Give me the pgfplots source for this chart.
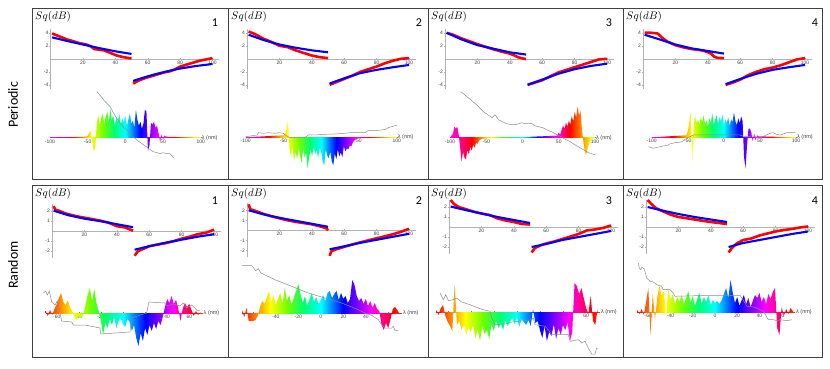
\documentclass[border=0pt]{standalone}
\usepackage{fontspec}
\setmainfont{Carlito}
\newfontfamily\tickfont{Liberation Sans}
\usepackage{pgfplots}
\pgfplotsset{compat=1.18}
\usepackage{pgfplotstable}

% wavelength colours; the middle 25bp..75bp spans the filled area
\pgfdeclarehorizontalshading{lamP}{100bp}{rgb(0bp)=(1,0,1); rgb(25bp)=(1,0,1); rgb(28.75bp)=(1,0,0.55); rgb(32.5bp)=(1,0,0); rgb(35.5bp)=(1,0.5,0); rgb(38.75bp)=(1,1,0); rgb(42.5bp)=(0.45,1,0); rgb(46.25bp)=(0,1,0.45); rgb(50bp)=(0,1,1); rgb(55bp)=(0,0,1); rgb(58.75bp)=(0.6,0,1); rgb(61.25bp)=(1,0,1); rgb(63.75bp)=(1,0,0.55); rgb(66.25bp)=(1,0,0); rgb(70bp)=(1,0.5,0); rgb(73.75bp)=(1,1,0); rgb(75bp)=(0.85,1,0.2); rgb(100bp)=(0.85,1,0.2)}
\pgfdeclarehorizontalshading{lamR}{100bp}{rgb(0bp)=(1,0,0.1); rgb(25bp)=(1,0,0.1); rgb(29.29bp)=(1,0.5,0); rgb(33.93bp)=(1,1,0); rgb(39.29bp)=(0.45,1,0); rgb(44.64bp)=(0,1,0.45); rgb(50bp)=(0,1,1); rgb(57.14bp)=(0,0,1); rgb(62.5bp)=(0.6,0,1); rgb(66.07bp)=(1,0,1); rgb(69.64bp)=(1,0,0.55); rgb(73.21bp)=(1,0,0); rgb(75bp)=(1,0.17,0); rgb(100bp)=(1,0.17,0)}

\pgfplotsset{
  colormap={lam}{rgb(0pt)=(1,0,1) rgb(15pt)=(1,0,0.55) rgb(30pt)=(1,0,0) rgb(42pt)=(1,0.5,0) rgb(55pt)=(1,1,0) rgb(70pt)=(0.45,1,0) rgb(85pt)=(0,1,0.45) rgb(100pt)=(0,1,1) rgb(120pt)=(0,0,1) rgb(135pt)=(0.6,0,1) rgb(145pt)=(1,0,1) rgb(155pt)=(1,0,0.55) rgb(165pt)=(1,0,0) rgb(180pt)=(1,0.5,0) rgb(195pt)=(1,1,0) rgb(200pt)=(0.85,1,0.2)},
  tk/.style={/pgf/number format/assume math mode=true,
    tick label style={font=\tickfont\fontsize{5}{6}\selectfont, text=black!75, inner sep=1pt}},
  sq/.style={scale only axis, tk, axis lines=middle,
    axis line style={-, gray!60, line width=0.4pt},
    tick style={gray!60, line width=0.4pt}, major tick length=2pt,
    xmin=0, xmax=104, width=168.5pt, xtick={20,40,60,80,100},
    clip=false, anchor=south west},
  sqp/.style={sq, ymin=-4.6, ymax=4.6, height=59.8pt, ytick={-4,-2,2,4}},
  sqr/.style={sq, ymin=-2.7, ymax=2.7, height=54pt, ytick={-2,-1,1,2}},
  rd/.style={red, line width=2.6pt, no markers, line join=round},
  bl/.style={blue, line width=2.1pt, no markers, line join=round},
  lam/.style={scale only axis, tk, axis x line=middle, axis y line=none,
    axis line style={draw=none}, tick style={black!50, line width=0.4pt},
    major tick length=1.5pt, ymin=-50, ymax=50, height=100pt, clip=false,
    anchor=south west, colormap name=lam, point meta min=-100, point meta max=100},
  spec/.style={draw=none, shade, shading=#1, no markers},
  gr/.style={black!45, line width=0.5pt, no markers},
  band/.style={mesh, point meta=x, line width=1pt, no markers},
}

% spectra: x (nm), bar height
\pgfplotstableread[row sep=\\]{x v\\-100 0\\
-52 1\\-50 2\\-48 5\\-46 6\\-44 -3\\-42 -14\\-40 -10\\-38 14\\-36 23\\-34 12\\-32 20\\-30 24\\-28 14\\-26 21\\
-24 26\\-22 15\\-20 29\\-18 18\\-16 22\\-14 12\\-12 20\\-10 16\\-8 24\\-6 13\\-4 19\\-2 15\\0 22\\2 12\\4 18\\
6 24\\8 14\\10 17\\12 10\\14 28\\16 18\\18 12\\20 16\\22 9\\24 14\\26 28\\28 26\\30 -13\\32 -8\\34 15\\36 13\\
38 16\\40 10\\42 12\\44 5\\46 -4\\48 3\\50 -2\\52 2\\54 1\\100 0\\}\tPa
\pgfplotstableread[row sep=\\]{x v\\-100 0\\
-50 2\\-48 3\\-46 8\\-44 17\\-42 -12\\-40 -20\\-38 -8\\-36 -24\\-34 -14\\-32 -22\\-30 -10\\-28 -18\\-26 -26\\
-24 -12\\-22 -20\\-20 -15\\-18 -31\\-16 -20\\-14 -12\\-12 -19\\-10 -9\\-8 -17\\-6 -13\\-4 -21\\-2 -10\\0 -15\\
2 -24\\4 -28\\6 -12\\8 -18\\10 -21\\12 -14\\14 -24\\16 -28\\18 -16\\20 -22\\22 -12\\24 -19\\26 -15\\28 -20\\
30 -9\\32 -14\\34 -11\\36 -12\\38 -8\\40 -9\\42 -5\\44 -3\\46 -2\\48 -1\\100 0\\}\tPb
\pgfplotstableread[row sep=\\]{x v\\-100 0\\
-96 4\\-94 11\\-92 9\\-90 11\\-88 3\\-86 -10\\-84 -24\\-82 -14\\-80 -20\\-78 -22\\-76 -12\\-74 -17\\-72 -9\\
-70 -13\\-68 -7\\-66 -10\\-64 -5\\-62 -6\\-60 -3\\-58 -2\\-56 -1\\
48 2\\50 5\\52 3\\54 8\\56 12\\58 9\\60 15\\62 11\\64 17\\66 13\\68 22\\70 16\\72 26\\74 20\\76 31\\78 22\\
80 27\\82 8\\84 -4\\86 -14\\88 -17\\90 -10\\92 -6\\94 -2\\100 0\\}\tPc
\pgfplotstableread[row sep=\\]{x v\\-100 0\\
-52 2\\-50 6\\-48 14\\-46 26\\-44 -26\\-42 10\\-40 22\\-38 14\\-36 18\\-34 12\\-32 20\\-30 15\\-28 22\\-26 13\\
-24 17\\-22 10\\-20 19\\-18 14\\-16 24\\-14 12\\-12 18\\-10 22\\-8 13\\-6 20\\-4 16\\-2 23\\0 12\\2 18\\4 14\\
6 20\\8 11\\10 18\\12 15\\14 25\\16 16\\18 12\\20 19\\22 14\\24 21\\26 16\\28 -20\\30 -31\\32 -10\\34 8\\36 9\\
38 5\\40 -4\\42 4\\44 -3\\46 2\\48 1\\100 0\\}\tPd
\pgfplotstableread[row sep=\\]{x v\\
-70 2\\-68 -3\\-66 3\\-64 -2\\-62 4\\-60 9\\-58 15\\-56 20\\-54 11\\-52 8\\-50 13\\-48 6\\-46 2\\-44 -4\\
-42 -7\\-40 -3\\-38 -5\\-36 -2\\-34 8\\-32 18\\-30 25\\-28 12\\-26 24\\-24 10\\-22 2\\-20 -8\\-18 -22\\-16 -10\\
-14 -15\\-12 -6\\-10 -12\\-8 -4\\-6 -15\\-4 -8\\-2 -5\\0 -11\\2 -14\\4 -6\\6 -9\\8 -18\\10 -12\\12 -25\\
14 -33\\16 -20\\18 -28\\20 -15\\22 -22\\24 -12\\26 -18\\28 -10\\30 -16\\32 -8\\34 -12\\36 -4\\38 6\\40 14\\
42 10\\44 17\\46 9\\48 13\\50 5\\52 -8\\54 4\\56 10\\58 6\\60 9\\62 3\\64 -3\\66 2\\68 -2\\70 1\\}\tRa
\pgfplotstableread[row sep=\\]{x v\\
-70 3\\-68 -4\\-66 5\\-64 -8\\-62 -8\\-60 -8\\-58 -7\\-56 -3\\-54 6\\-52 12\\-50 9\\-48 15\\-46 22\\-44 11\\
-42 18\\-40 8\\-38 14\\-36 20\\-34 9\\-32 25\\-30 12\\-28 18\\-26 8\\-24 15\\-22 22\\-20 29\\-18 19\\-16 10\\
-14 17\\-12 7\\-10 14\\-8 20\\-6 11\\-4 16\\-2 9\\0 13\\2 18\\4 12\\6 20\\8 22\\10 15\\12 19\\14 22\\16 13\\
18 20\\20 14\\22 17\\24 10\\26 14\\28 33\\30 28\\32 17\\34 12\\36 15\\38 9\\40 14\\42 7\\44 12\\46 5\\48 10\\
50 4\\52 2\\54 -12\\56 -17\\58 -10\\60 -15\\62 -6\\64 4\\66 6\\68 3\\70 -1\\}\tRb
\pgfplotstableread[row sep=\\]{x v\\
-70 2\\-68 -3\\-66 4\\-64 7\\-62 -4\\-60 -10\\-58 -14\\-56 -19\\-54 28\\-52 -13\\-50 -9\\-48 -18\\-46 -12\\
-44 -23\\-42 -15\\-40 -20\\-38 -13\\-36 -26\\-34 -17\\-32 -29\\-30 -14\\-28 -22\\-26 -18\\-24 -27\\-22 -12\\
-20 -19\\-18 -9\\-16 -16\\-14 -11\\-12 -18\\-10 -8\\-8 -14\\-6 -10\\-4 -6\\-2 -12\\0 -5\\2 -15\\4 -7\\6 -10\\
8 -13\\10 -8\\12 -14\\14 3\\16 -11\\18 -9\\20 -18\\22 -26\\24 -14\\26 -29\\28 -20\\30 -24\\32 -12\\34 -27\\
36 -16\\38 -23\\40 -13\\42 -18\\44 -10\\46 -29\\48 -20\\50 29\\52 26\\54 18\\56 24\\58 14\\60 4\\62 -2\\
64 16\\66 -9\\68 -13\\70 3\\}\tRc
\pgfplotstableread[row sep=\\]{x v\\
-70 2\\-68 -2\\-66 3\\-64 -3\\-62 10\\-60 24\\-58 -23\\-56 18\\-54 -8\\-52 14\\-50 26\\-48 16\\-46 22\\-44 -6\\
-42 24\\-40 12\\-38 18\\-36 8\\-34 15\\-32 10\\-30 17\\-28 8\\-26 14\\-24 21\\-22 9\\-20 16\\-18 6\\-16 13\\
-14 19\\-12 8\\-10 15\\-8 10\\-6 17\\-4 7\\-2 12\\0 9\\2 11\\4 8\\6 12\\8 18\\10 24\\12 14\\14 32\\16 19\\
18 9\\20 15\\22 6\\24 12\\26 17\\28 8\\30 14\\32 5\\34 11\\36 17\\38 14\\40 19\\42 10\\44 15\\46 8\\48 18\\
50 13\\52 20\\54 24\\56 -16\\58 -23\\60 5\\62 -4\\64 3\\66 -2\\68 4\\70 1\\}\tRd
\pgfplotstableread[row sep=\\]{x y\\-100 0\\-95 0\\-90 0\\-85 0\\-80 0\\-75 0\\-70 0\\-65 0\\-60 0\\-55 0\\-50 0\\-45 0\\-40 0\\-35 0\\-30 0\\
-25 0\\-20 0\\-15 0\\-10 0\\-5 0\\0 0\\5 0\\10 0\\15 0\\20 0\\25 0\\30 0\\35 0\\40 0\\45 0\\50 0\\55 0\\60 0\\65 0\\70 0\\75 0\\80 0\\85 0\\90 0\\95 0\\100 0\\}\tBandP
\pgfplotstableread[row sep=\\]{x y\\-70 0\\-66 0\\-62 0\\-58 0\\-54 0\\-50 0\\-46 0\\-42 0\\-38 0\\-34 0\\-30 0\\-26 0\\-22 0\\-18 0\\-14 0\\-10 0\\
-6 0\\-2 0\\2 0\\6 0\\10 0\\14 0\\18 0\\22 0\\26 0\\30 0\\34 0\\38 0\\42 0\\46 0\\50 0\\54 0\\58 0\\62 0\\66 0\\70 0\\72 0\\}\tBandR

\begin{document}
\begin{tikzpicture}
\useasboundingbox (0pt,0pt) rectangle (830pt,368pt);

% ---------- Periodic row: Sq(dB) ----------
\begin{axis}[sqp, at={(50.5pt,279.3pt)}]
\addplot[rd] coordinates {(1,3.9)(3,3.7)(6,3.4)(10,3.0)(14,2.7)(18,2.4)(22,2.2)(25,1.9)(27,1.5)(30,1.4)(33,1.3)(36,1.0)(38,0.8)(41,0.5)(45,0.25)(50,0.05)};
\addplot[rd] coordinates {(51,-3.8)(54,-3.4)(58,-3.0)(62,-2.7)(66,-2.4)(70,-2.1)(74,-1.9)(77,-1.6)(80,-1.2)(84,-0.9)(88,-0.6)(92,-0.3)(96,-0.1)(100,0.1)};
\addplot[bl] coordinates {(1,3.3)(10,2.75)(20,2.2)(30,1.65)(40,1.15)(50,0.75)};
\addplot[bl] coordinates {(51,-3.4)(56,-3.0)(60,-2.7)(65,-2.35)(70,-2.05)(75,-1.75)(80,-1.5)(85,-1.3)(90,-1.1)(95,-0.95)(100,-0.8)};
\end{axis}
\begin{axis}[sqp, at={(247pt,279.3pt)}]
\addplot[rd] coordinates {(1,4.2)(5,3.8)(10,3.1)(15,2.6)(20,2.0)(25,1.8)(28,1.5)(30,1.3)(35,0.9)(40,0.5)(45,0.25)(50,0.1)};
\addplot[rd] coordinates {(51,-4.0)(55,-3.6)(60,-3.1)(65,-2.6)(70,-2.0)(75,-1.6)(80,-1.2)(85,-0.7)(90,-0.3)(95,0)(100,0.1)};
\addplot[bl] coordinates {(1,3.7)(10,2.9)(20,2.2)(30,1.7)(40,1.3)(50,1.0)};
\addplot[bl] coordinates {(51,-3.8)(60,-3.0)(70,-2.2)(80,-1.7)(90,-1.3)(100,-0.95)};
\end{axis}
\begin{axis}[sqp, at={(445pt,279.3pt)}]
\addplot[rd] coordinates {(1,4.0)(5,3.7)(10,3.15)(15,2.7)(20,2.25)(25,1.85)(30,1.45)(35,1.1)(40,0.8)(43,0.5)(45,0.25)(48,0.05)(50,-0.05)};
\addplot[rd] coordinates {(51,-4.0)(55,-3.7)(60,-3.3)(65,-2.7)(70,-2.1)(75,-1.7)(80,-1.3)(85,-0.9)(90,-0.5)(95,-0.1)(100,0.0)};
\addplot[bl] coordinates {(1,4.0)(10,3.0)(20,2.1)(30,1.55)(40,1.0)(50,0.65)};
\addplot[bl] coordinates {(51,-4.0)(60,-3.2)(70,-2.3)(80,-1.6)(90,-1.1)(100,-0.75)};
\end{axis}
\begin{axis}[sqp, at={(643pt,279.3pt)}]
\addplot[rd] coordinates {(1,4.0)(5,4.0)(9,3.9)(12,3.2)(15,2.65)(20,2.1)(25,1.75)(30,1.5)(35,1.35)(38,1.2)(42,0.8)(44,0.3)(46,0.15)(50,0.1)};
\addplot[rd] coordinates {(51,-4.0)(55,-3.7)(60,-3.2)(65,-2.5)(70,-2.0)(75,-1.6)(80,-1.35)(85,-1.0)(90,-0.55)(95,-0.1)(100,0.1)};
\addplot[bl] coordinates {(1,3.7)(10,3.0)(20,2.2)(30,1.6)(40,1.2)(50,0.8)};
\addplot[bl] coordinates {(51,-3.9)(60,-3.1)(70,-2.3)(80,-1.7)(90,-1.3)(100,-0.95)};
\end{axis}

% ---------- Periodic row: spectra ----------
\begin{axis}[lam, at={(50pt,180.3pt)}, width=150.7pt, xmin=-100, xmax=100, xtick={-100,-50,0,50,100}]
\addplot[band] table[x=x, y=y] {\tBandP};
\addplot[spec=lamP] table[x=x, y=v] {\tPa} \closedcycle;
\addplot[gr] coordinates {(-38,46)(-33,42)(-28,37)(-24,34)(-20,31)(-16,25)(-11,19)(-6,14)(-2,10)(2,8)(6,4)(10,1)(15,-2)(20,-5)(24,-7)(28,-9)(33,-12)(37,-14)(42,-15)(46,-16)(50,-15)(55,-16)(59,-16)(62,-18)(64,-20)};
\node[anchor=west, font=\tickfont\fontsize{5.5}{6}\selectfont, text=black!75, inner sep=1pt] at (axis cs:100,0) {λ (nm)};
\end{axis}
\begin{axis}[lam, at={(245.7pt,180.7pt)}, width=151pt, xmin=-100, xmax=100, xtick={-100,-50,0,50,100}]
\addplot[band] table[x=x, y=y] {\tBandP};
\addplot[spec=lamP] table[x=x, y=v] {\tPb} \closedcycle;
\addplot[gr] coordinates {(-100,0.6)(-92,1.5)(-85,2.3)(-83,4.6)(-76,4)(-70,4.6)(-62,4)(-56,4.6)(-50,4)(-46,1.3)(-41,-0.4)(-30,0)(-21,0)(-17,2.3)(-5,2.5)(5,3)(18,3.3)(30,4)(40,4.6)(50,4.6)(58,4.6)(62,6.6)(70,6.6)(80,7.3)(85,8)(89,9.6)(95,11)(100,12)};
\node[anchor=west, font=\tickfont\fontsize{5.5}{6}\selectfont, text=black!75, inner sep=1pt] at (axis cs:100,0) {λ (nm)};
\end{axis}
\begin{axis}[lam, at={(450pt,180.3pt)}, width=145pt, xmin=-100, xmax=100, xtick={-100,-50,0,50,100}]
\addplot[band] table[x=x, y=y] {\tBandP};
\addplot[spec=lamP] table[x=x, y=v] {\tPc} \closedcycle;
\addplot[gr] coordinates {(-85,46)(-75,40)(-65,34)(-54,26)(-48,23)(-42,20)(-38,23)(-33,18)(-28,16)(-22,14)(-15,13)(-10,13)(-5,14)(-1,15)(3,14)(8,14.5)(13,14)(17,12)(22,11)(28,10)(33,8)(40,6)(45,4)(52,1.5)(59,-1.6)(66,-4)(72,-7)(77,-9)(84,-12)(91,-15)(97,-16.5)(100,-17)};
\node[anchor=west, font=\tickfont\fontsize{5.5}{6}\selectfont, text=black!75, inner sep=1pt] at (axis cs:100,0) {λ (nm)};
\end{axis}
\begin{axis}[lam, at={(651.7pt,180.7pt)}, width=144.3pt, xmin=-100, xmax=100, xtick={-100,-50,0,50,100}]
\addplot[band] table[x=x, y=y] {\tBandP};
\addplot[spec=lamP] table[x=x, y=v] {\tPd} \closedcycle;
\addplot[gr] coordinates {(-104,-9.4)(-98,-11)(-92,-10)(-84,-8.7)(-78,-8)(-75,-6.7)(-68,-5.4)(-62,-5)(-58,-4.4)(-54,-2)(-49,0)(-42,2.3)(-33,2.3)(22,2.3)(29,0.6)(35,1)(41,1.3)(46,0)(50,-1)(55,1)(59,2.3)(64,4)(68,4.6)(73,3)(78,2.3)(83,3.5)(87,4.6)(93,4.8)(99,5)};
\node[anchor=west, font=\tickfont\fontsize{5.5}{6}\selectfont, text=black!75, inner sep=1pt] at (axis cs:100,0) {λ (nm)};
\end{axis}

% ---------- Random row: Sq(dB) ----------
\begin{axis}[sqr, at={(52pt,110.3pt)}]
\addplot[rd] coordinates {(1,2.45)(2,2.1)(5,1.95)(8,1.75)(10,1.65)(15,1.45)(20,1.3)(25,1.15)(30,1.0)(35,0.8)(40,0.45)(45,0.33)(50,0.0)};
\addplot[rd] coordinates {(51,-2.5)(53,-2.05)(56,-1.85)(60,-1.55)(65,-1.4)(70,-1.25)(75,-1.05)(80,-0.8)(85,-0.6)(90,-0.35)(95,-0.2)(100,0.1)};
\addplot[bl] coordinates {(1,2.0)(10,1.55)(20,1.2)(30,0.95)(40,0.65)(50,0.35)};
\addplot[bl] coordinates {(51,-1.9)(60,-1.55)(70,-1.2)(80,-0.9)(90,-0.6)(100,-0.35)};
\end{axis}
\begin{axis}[sqr, at={(247pt,110.7pt)}]
\addplot[rd] coordinates {(1,2.6)(2,2.1)(5,1.95)(10,1.65)(15,1.4)(20,1.2)(25,1.0)(30,0.85)(35,0.72)(40,0.6)(45,0.4)(49,0.2)(50,0.0)};
\addplot[rd] coordinates {(51,-2.55)(52,-2.1)(55,-1.9)(60,-1.65)(65,-1.42)(70,-1.2)(75,-1.0)(80,-0.8)(85,-0.6)(90,-0.4)(95,-0.15)(100,0.15)};
\addplot[bl] coordinates {(1,2.0)(10,1.6)(20,1.25)(30,0.95)(40,0.65)(50,0.35)};
\addplot[bl] coordinates {(51,-1.9)(60,-1.6)(70,-1.25)(80,-0.95)(90,-0.65)(100,-0.35)};
\end{axis}
\begin{axis}[sqr, at={(449pt,114pt)}]
\addplot[rd] coordinates {(1,2.7)(3,2.3)(6,2.0)(10,1.8)(15,1.55)(20,1.35)(25,1.2)(28,1.0)(30,0.85)(35,0.65)(40,0.5)(45,0.3)(50,0.25)};
\addplot[rd] coordinates {(51,-2.55)(53,-2.1)(57,-1.8)(60,-1.65)(65,-1.45)(70,-1.2)(75,-0.95)(80,-0.7)(85,-0.35)(90,-0.25)(95,-0.1)(100,0.15)};
\addplot[bl] coordinates {(1,2.05)(10,1.7)(20,1.35)(30,1.0)(40,0.7)(50,0.4)};
\addplot[bl] coordinates {(51,-2.0)(60,-1.7)(70,-1.3)(80,-1.0)(90,-0.7)(100,-0.4)};
\end{axis}
\begin{axis}[sqr, at={(646pt,114pt)}]
\addplot[rd] coordinates {(1,2.7)(3,2.35)(6,1.9)(10,1.6)(15,1.25)(20,1.0)(25,0.88)(30,0.75)(35,0.62)(40,0.5)(45,0.4)(50,0.3)};
\addplot[rd] coordinates {(51,-2.55)(53,-2.1)(56,-1.65)(60,-1.3)(65,-1.15)(70,-0.85)(75,-0.65)(80,-0.45)(85,-0.3)(90,-0.2)(95,-0.05)(100,0.05)};
\addplot[bl] coordinates {(1,2.0)(10,1.65)(20,1.3)(30,1.0)(40,0.75)(50,0.5)};
\addplot[bl] coordinates {(51,-2.0)(60,-1.6)(70,-1.3)(80,-1.0)(90,-0.7)(100,-0.45)};
\end{axis}

% ---------- Random row: spectra ----------
\begin{axis}[lam, at={(45.65pt,5pt)}, width=156.9pt, xmin=-70, xmax=72, xtick={-60,-40,...,60}]
\addplot[band] table[x=x, y=y] {\tBandR};
\addplot[spec=lamR] table[x=x, y=v] {\tRa} \closedcycle;
\addplot[gr] coordinates {(-72,20)(-70,22)(-68.5,18)(-66.7,22)(-64.5,11)(-61.5,8)(-59.4,12)(-57.6,3)(-55.5,-8)(-46.4,-9)(-45,-12)(-34.4,-12)(-20.8,-15)(-20.2,-21)(6.3,-19)(7.9,-5)(21.4,0)(23.5,11)(38,10)(39.5,7)(45.5,9)(51.6,7)(54.6,10)(57.6,5)(62.2,8)(66.7,3)(69.7,2)};
\node[anchor=west, font=\tickfont\fontsize{5.5}{6}\selectfont, text=black!75, inner sep=1pt] at (axis cs:72,0) {λ (nm)};
\end{axis}
\begin{axis}[lam, at={(242pt,5pt)}, width=159.8pt, xmin=-70, xmax=72, xtick={-60,-40,...,60}]
\addplot[band] table[x=x, y=y] {\tBandR};
\addplot[spec=lamR] table[x=x, y=v] {\tRb} \closedcycle;
\addplot[gr] coordinates {(-70.3,47.7)(-62,47.7)(-60,45.7)(-57.9,42.3)(-55.6,44.3)(-53.2,40)(-40.7,33.3)(-25.9,26.7)(-11.1,20)(3.7,15)(18.6,10)(33.3,3.3)(39.3,0)(45.2,-2.3)(51.1,-6.7)(54.1,-11.7)(57.1,-15)(63,-15)(64.4,-13.3)(66,-17.7)(68.9,-17.7)};
\node[anchor=west, font=\tickfont\fontsize{5.5}{6}\selectfont, text=black!75, inner sep=1pt] at (axis cs:72,0) {λ (nm)};
\end{axis}
\begin{axis}[lam, at={(436.2pt,6pt)}, width=163.7pt, xmin=-70, xmax=72, xtick={-60,-40,...,60}]
\addplot[band] table[x=x, y=y] {\tBandR};
\addplot[spec=lamR] table[x=x, y=v] {\tRc} \closedcycle;
\addplot[gr] coordinates {(-66.7,19)(-63.8,12.3)(-61.7,17.3)(-59.4,11.3)(-55.1,12.3)(-52.2,14)(-47.9,10)(-40.7,7.3)(-33.5,4)(-29.1,2.3)(-23.3,0.7)(-21.8,-6)(-19,-12.7)(-10.3,-12)(-4.5,-10)(1.2,-9.3)(12.9,-7.7)(14.2,-6)(15.7,-12.7)(24.4,-14.3)(27.2,-17.7)(30.2,-22.7)(44.6,-22.7)(46.1,-29.3)(53.3,-27.7)(56.2,-31)(59.1,-29.3)(61.9,-36)(64.9,-42)(67.8,-42)(69.2,-36)(70.6,-36)};
\node[anchor=west, font=\tickfont\fontsize{5.5}{6}\selectfont, text=black!75, inner sep=1pt] at (axis cs:72,0) {λ (nm)};
\end{axis}
\begin{axis}[lam, at={(637.2pt,6pt)}, width=157.8pt, xmin=-70, xmax=72, xtick={-60,-40,...,60}]
\addplot[band] table[x=x, y=y] {\tBandR};
\addplot[spec=lamR] table[x=x, y=v] {\tRd} \closedcycle;
\addplot[gr] coordinates {(-69,49)(-68.1,44)(-66.8,42.3)(-65.9,44.7)(-63.9,43.3)(-63,40.7)(-61.4,34)(-58.5,30.7)(-55.5,30)(-52.5,27.3)(-48,25.7)(-46.5,22.3)(-40.5,22.3)(-37.5,19)(-36,15.7)(-4.5,16.7)(22.5,16.7)(24.1,14)(27,9)(28.6,5.7)(34.5,5)(37.6,4)(40.5,2.3)(43.5,0.7)(48,-7.7)(52.5,-7.7)(55.6,-8.7)(58.5,-7.7)(64.6,-8.7)(69.1,-7.7)};
\node[anchor=west, font=\tickfont\fontsize{5.5}{6}\selectfont, text=black!75, inner sep=1pt] at (axis cs:72,0) {λ (nm)};
\end{axis}

% ---------- frames and labels ----------
\draw[black!75, line width=1pt] (32pt,189pt) rectangle (822pt,360pt);
\draw[black!75, line width=1pt] (32pt,11pt) rectangle (822pt,183pt);
\foreach \x in {228,428,623} {
  \draw[black!75, line width=1pt] (\x pt,189pt) -- (\x pt,360pt);
  \draw[black!75, line width=1pt] (\x pt,11pt) -- (\x pt,183pt);
}
\node[rotate=90, font=\fontsize{14}{16}\selectfont] at (13pt,263pt) {Periodic};
\node[rotate=90, font=\fontsize{14}{16}\selectfont] at (13pt,103pt) {Random};
\foreach \x/\n in {215/1,419/2,609/3,815/4} {
  \node[font=\fontsize{12}{14}\selectfont] at (\x pt,345pt) {\n};
  \node[font=\fontsize{12}{14}\selectfont] at (\x pt,167pt) {\n};
}
\foreach \x in {35,231,431,626} {
  \node[anchor=west, inner sep=0pt, font=\fontsize{11}{13}\selectfont] at (\x pt,351pt) {$Sq(dB)$};
  \node[anchor=west, inner sep=0pt, font=\fontsize{11}{13}\selectfont] at (\x pt,174pt) {$Sq(dB)$};
}
\end{tikzpicture}
\end{document}
